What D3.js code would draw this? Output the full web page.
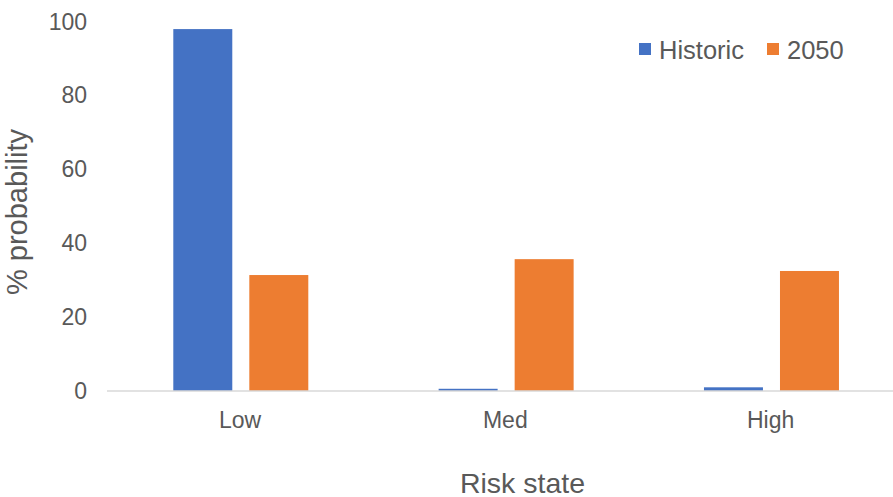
<!DOCTYPE html>
<html>
<head>
<meta charset="utf-8">
<script src="https://cdn.jsdelivr.net/npm/d3@7"></script>
<style>
  html, body { margin: 0; padding: 0; background: #fff; }
  svg text { font-family: "Liberation Sans", Arial, sans-serif; fill: #595959; }
</style>
</head>
<body>
<svg id="chart" width="893" height="497"></svg>
<script>
const categories = ["Low", "Med", "High"];
const seriesNames = ["Historic", "2050"];
const historic = [98.0, 0.6, 1.0];
const future2050 = [31.4, 35.7, 32.5];
const yTicks = [0, 20, 40, 60, 80, 100];
const colors = ["#4472C4", "#ED7D31"];

const rows = categories.map((c, i) => ({ cat: c, values: [historic[i], future2050[i]] }));

const svg = d3.select("#chart");
const W = 893, H = 497;

const x = d3.scaleBand().domain(categories).range([107.3, 903.3]).paddingInner(0).paddingOuter(0);
const xInner = d3.scaleBand().domain(seriesNames).range([66, 201]).paddingInner(0.224).paddingOuter(0);
const y = d3.scaleLinear().domain([0, 100]).range([391, 21.7]);

// y axis labels
const yAxis = d3.axisLeft(y).tickValues(yTicks).tickSize(0).tickPadding(20);
const gy = svg.append("g").attr("transform", "translate(107,0)").call(yAxis);
gy.select(".domain").remove();
gy.selectAll("text").style("font-size", "23px").style("fill", "#595959")
  .style("font-family", "'Liberation Sans', Arial, sans-serif");

// bars
const groups = svg.append("g").selectAll("g").data(rows).join("g")
  .attr("transform", d => `translate(${x(d.cat)},0)`);
groups.selectAll("rect")
  .data(d => d.values.map((v, j) => ({ key: seriesNames[j], v, j })))
  .join("rect")
  .attr("x", d => xInner(d.key))
  .attr("width", xInner.bandwidth())
  .attr("y", d => y(d.v))
  .attr("height", d => y(0) - y(d.v))
  .attr("fill", d => colors[d.j]);

// baseline
svg.append("line")
  .attr("x1", 107).attr("x2", W)
  .attr("y1", y(0)).attr("y2", y(0))
  .attr("stroke", "#D9D9D9").attr("stroke-width", 1.5);

// x axis labels
const xAxis = d3.axisBottom(x).tickSize(0).tickPadding(0);
const gx = svg.append("g").call(xAxis);
gx.select(".domain").remove();
gx.selectAll(".tick").attr("transform", d => `translate(${x(d) + 132.7},0)`);
gx.selectAll("text").attr("y", 428).attr("dy", null)
  .style("font-size", "23px").style("fill", "#595959")
  .style("font-family", "'Liberation Sans', Arial, sans-serif");

// axis titles
svg.append("text")
  .attr("x", 522.5).attr("y", 492.5)
  .attr("text-anchor", "middle")
  .style("font-size", "28.5px")
  .text("Risk state");

svg.append("text")
  .attr("transform", "translate(33,212) rotate(-90)")
  .attr("dy", "-0.22em")
  .attr("text-anchor", "middle")
  .style("font-size", "29px")
  .text("% probability");

// legend
const legendX = [639, 767];
const legend = svg.append("g").selectAll("g").data(seriesNames).join("g")
  .attr("transform", (d, i) => `translate(${legendX[i]},43)`);
legend.append("rect").attr("width", 12).attr("height", 12).attr("fill", (d, i) => colors[i]);
legend.append("text").attr("x", 20).attr("y", 16)
  .style("font-size", "25.5px").text(d => d);
</script>
</body>
</html>
